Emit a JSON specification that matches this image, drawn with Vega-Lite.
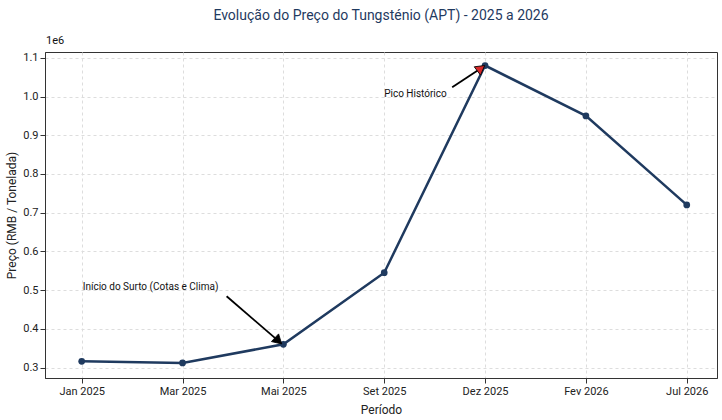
{
  "$schema": "https://vega.github.io/schema/vega-lite/v6.json",
  "width": 722, "height": 420,
  "autosize": {"type": "fit", "contains": "padding"},
  "background": "white",
  "config": {"font": "Roboto", "view": {"stroke": "#333"}},
  "title": {"text": "Evolução do Preço do Tungsténio (APT) - 2025 a 2026", "color": "#1f3a5f", "fontSize": 14, "fontWeight": "normal", "offset": 12},
  "datasets": {
    "precos": [
      {"i": 0, "periodo": "Jan 2025", "preco": 316000},
      {"i": 1, "periodo": "Mar 2025", "preco": 312000},
      {"i": 2, "periodo": "Mai 2025", "preco": 360000},
      {"i": 3, "periodo": "Set 2025", "preco": 545000},
      {"i": 4, "periodo": "Dez 2025", "preco": 1080000},
      {"i": 5, "periodo": "Fev 2026", "preco": 950000},
      {"i": 6, "periodo": "Jul 2026", "preco": 720000}
    ],
    "setas": [
      {"x": 1.437, "y": 484000, "x2": 1.95, "y2": 369000, "ang": 133, "cor": "black"},
      {"x": 3.674, "y": 1024000, "x2": 3.96, "y2": 1073000, "ang": 53, "cor": "#d62728"}
    ],
    "notasE": [
      {"x": 0.01, "y": 509000, "t": "Início do Surto (Cotas e Clima)"}
    ],
    "notasD": [
      {"x": 3.62, "y": 1007000, "t": "Pico Histórico"}
    ],
    "notasC": [
      {"x": -0.263, "y": 1144000, "t": "1e6"}
    ]
  },
  "layer": [
    {
      "data": {"name": "precos"},
      "mark": {"type": "line", "color": "#1f3a5f", "strokeWidth": 2.5, "point": {"filled": true, "size": 45, "color": "#1f3a5f"}},
      "encoding": {
        "x": {"field": "i", "type": "quantitative", "title": "Período",
          "scale": {"domain": [-0.364, 6.3], "nice": false, "zero": false},
          "axis": {"values": [0,1,2,3,4,5,6], "labelExpr": "['Jan 2025','Mar 2025','Mai 2025','Set 2025','Dez 2025','Fev 2026','Jul 2026'][datum.value]",
            "gridDash": [3,3], "gridColor": "#ddd", "labelFontSize": 11, "titleFontSize": 12, "titleFontWeight": "normal", "titlePadding": 8, "labelColor": "#222", "titleColor": "#222", "domainColor": "#333", "tickColor": "#333"}},
        "y": {"field": "preco", "type": "quantitative", "title": "Preço (RMB / Tonelada)",
          "scale": {"domain": [273000, 1115000], "nice": false, "zero": false},
          "axis": {"values": [300000,400000,500000,600000,700000,800000,900000,1000000,1100000], "labelExpr": "format(datum.value/1e6, '.1f')",
            "gridDash": [3,3], "gridColor": "#ddd", "labelFontSize": 11, "titleFontSize": 12, "titleFontWeight": "normal", "labelColor": "#222", "titleColor": "#222", "domainColor": "#333", "tickColor": "#333"}}
      }
    },
    {
      "data": {"name": "setas"},
      "mark": {"type": "rule", "color": "black", "strokeWidth": 1.8},
      "encoding": {"x": {"field": "x", "type": "quantitative"}, "y": {"field": "y", "type": "quantitative"}, "x2": {"field": "x2"}, "y2": {"field": "y2"}}
    },
    {
      "data": {"name": "setas"},
      "mark": {"type": "point", "shape": "triangle-up", "filled": true, "size": 110, "stroke": "black", "strokeWidth": 0.8, "opacity": 1},
      "encoding": {"x": {"field": "x2", "type": "quantitative"}, "y": {"field": "y2", "type": "quantitative"}, "angle": {"field": "ang", "type": "quantitative", "scale": null}, "fill": {"field": "cor", "type": "nominal", "scale": null}}
    },
    {
      "data": {"name": "notasE"},
      "mark": {"type": "text", "fontSize": 10, "color": "#111", "baseline": "middle", "align": "left"},
      "encoding": {"x": {"field": "x", "type": "quantitative"}, "y": {"field": "y", "type": "quantitative"}, "text": {"field": "t"}}
    },
    {
      "data": {"name": "notasD"},
      "mark": {"type": "text", "fontSize": 10, "color": "#111", "baseline": "middle", "align": "right"},
      "encoding": {"x": {"field": "x", "type": "quantitative"}, "y": {"field": "y", "type": "quantitative"}, "text": {"field": "t"}}
    },
    {
      "data": {"name": "notasC"},
      "mark": {"type": "text", "fontSize": 11, "color": "#111", "baseline": "middle", "align": "center"},
      "encoding": {"x": {"field": "x", "type": "quantitative"}, "y": {"field": "y", "type": "quantitative"}, "text": {"field": "t"}}
    }
  ]
}
